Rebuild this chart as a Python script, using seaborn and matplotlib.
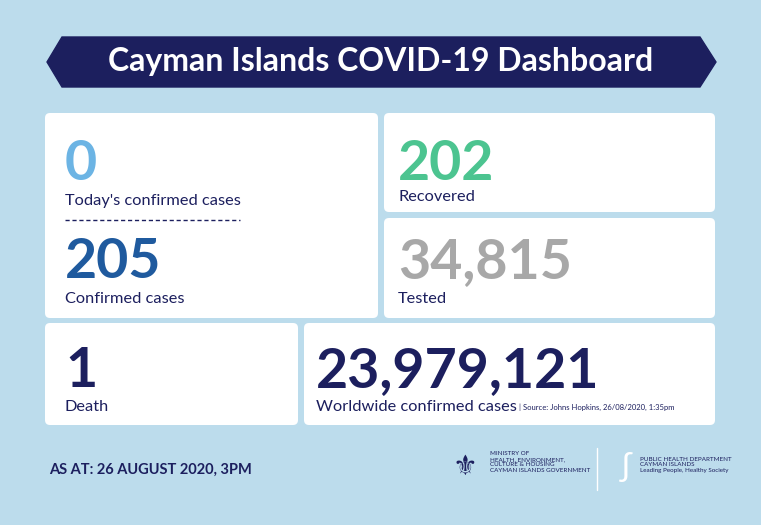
import matplotlib
matplotlib.use("Agg")
import matplotlib.pyplot as plt
import seaborn as sns
from matplotlib.patches import FancyBboxPatch, Polygon

sns.set_theme(style="white")
plt.rcParams['font.family'] = ['Lato', 'DejaVu Sans']

title = "Cayman Islands COVID-19 Dashboard"
values = ["0", "205", "202", "34,815", "1", "23,979,121"]
labels = ["Today's confirmed cases", "Confirmed cases", "Recovered", "Tested", "Death", "Worldwide confirmed cases"]
source = "| Source: Johns Hopkins, 26/08/2020, 1:35pm"
asat = "AS AT: 26 AUGUST 2020, 3PM"

BG = "#bcdcec"; NAVY = "#1c1f5e"
colors = ["#6cb4e4", "#1f5a9e", "#4cc490", "#a8a8a8", NAVY, NAVY]

fig = plt.figure(figsize=(7.61, 5.25), dpi=100, facecolor=BG)
ax = fig.add_axes([0, 0, 1, 1])
ax.set_xlim(0, 761); ax.set_ylim(525, 0); ax.axis("off")
ax.set_facecolor(BG)

ax.add_patch(Polygon([(47, 62), (62, 37), (700, 37), (716, 62), (700, 87), (62, 87)], color=NAVY))
ax.text(381, 62, title, color="white", fontsize=23, fontweight="bold", ha="center", va="center")

boxes = [(45, 113, 333, 205), (384, 113, 331, 99), (384, 218, 331, 100), (45, 323, 253, 102), (304, 323, 411, 102)]
for x, y, w, h in boxes:
    ax.add_patch(FancyBboxPatch((x, y), w, h, boxstyle="round,pad=0,rounding_size=5", fc="white", ec="none"))

pos = [(65, 180, 205), (65, 278, 303), (398, 180, 201), (398, 278, 303), (65, 387, 411), (316, 387, 411)]
for (x, yn, yl), v, l, c in zip(pos, values, labels, colors):
    ax.text(x, yn, v, color=c, fontsize=40, fontweight="bold", ha="left", va="baseline")
    ax.text(x, yl, l, color=NAVY, fontsize=11.8, ha="left", va="baseline")
ax.plot([65, 240], [220, 220], color=NAVY, lw=1, ls=(0, (3, 2)))
ax.text(519, 410, source, color=NAVY, fontsize=5.5, ha="left", va="baseline")

ax.text(49, 474, asat, color=NAVY, fontsize=10.5, fontweight="bold", ha="left", va="baseline")
ax.text(490, 462, "MINISTRY OF\nHEALTH, ENVIRONMENT,\nCULTURE & HOUSING\nCAYMAN ISLANDS GOVERNMENT", color=NAVY,
        fontsize=4.5, ha="left", va="center", linespacing=1.1)
ax.plot([597, 597], [448, 490], color="white", lw=1)
ax.text(640, 465, "PUBLIC HEALTH DEPARTMENT\nCAYMAN ISLANDS\nLeading People, Healthy Society", color=NAVY,
        fontsize=4.5, ha="left", va="center", linespacing=1.1)
ax.text(465, 467, "⚜", color=NAVY, fontsize=20, ha="center", va="center")
ax.text(625, 467, "ʃ", color="white", fontsize=24, ha="center", va="center")

fig.savefig("out.png", dpi=100, facecolor=BG)
